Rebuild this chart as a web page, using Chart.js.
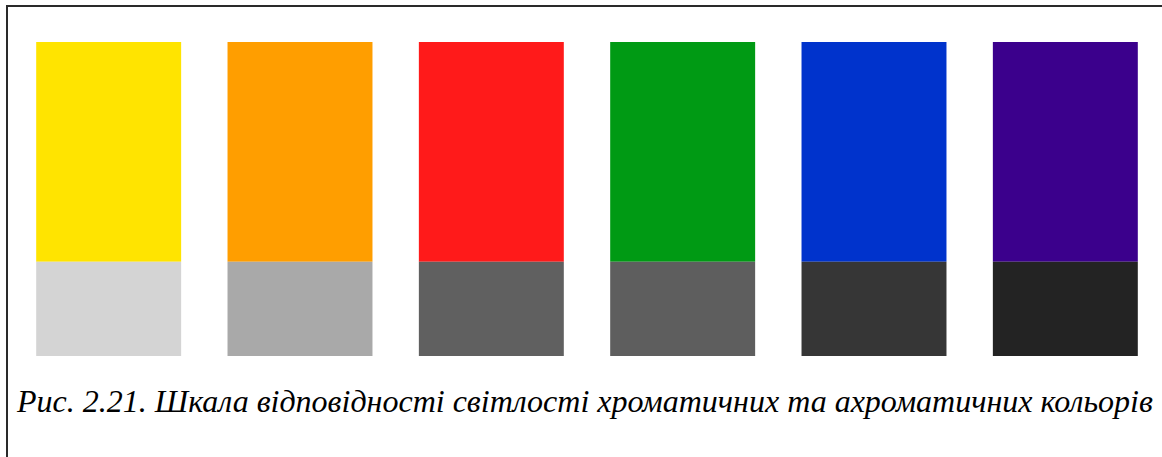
<!DOCTYPE html>
<html>
<head>
<meta charset="utf-8">
<script src="https://cdn.jsdelivr.net/npm/chart.js@4"></script>
<style>
  body { margin: 0; background: #fff; width: 1162px; height: 457px; overflow: hidden; position: relative; }
  .frame { position: absolute; left: 6px; top: 5px; width: 1200px; height: 500px;
           border-top: 2px solid #2a2a2a; border-left: 2px solid #2a2a2a; }
  .wrap { position: absolute; left: 0; top: 0; width: 1162px; height: 356px; }
  .caption { position: absolute; left: 17px; top: 383px; white-space: nowrap;
             font-family: "Liberation Serif", "Times New Roman", serif; font-style: italic;
             font-size: 32px; color: #000; }
</style>
</head>
<body>
<div class="frame"></div>
<div class="wrap"><canvas id="scale-chart"></canvas></div>
<div class="caption" id="caption"></div>
<script>
//
// Lightness scale data
//
const swatchNames = ['Жовтий', 'Помаранчевий', 'Червоний', 'Зелений', 'Синій', 'Фіолетовий'];
const achromaticPart = [30, 30, 30, 30, 30, 30];
const chromaticPart = [70, 70, 70, 70, 70, 70];
const captionText = 'Рис. 2.21. Шкала відповідності світлості хроматичних та ахроматичних кольорів';

const chromaticColors = ['#FFE400', '#FF9E00', '#FF1A1A', '#009A14', '#0033CC', '#3B008C'];
const achromaticColors = ['#D4D4D4', '#A9A9A9', '#606060', '#5E5E5E', '#363636', '#232323'];

document.getElementById('caption').textContent = captionText;

const scaleCanvas = document.getElementById('scale-chart');

let scaleData = {
    labels: swatchNames,
    datasets: [{
        label: 'Ахроматичні',
        data: achromaticPart,
        backgroundColor: achromaticColors,
        borderWidth: 0
    }, {
        label: 'Хроматичні',
        data: chromaticPart,
        backgroundColor: chromaticColors,
        borderWidth: 0
    }]
};

let scaleOptions = {
    responsive: true,
    maintainAspectRatio: false,
    animation: false,
    barPercentage: 0.7576,
    categoryPercentage: 1,
    layout: {
        padding: { left: 13, right: 1, top: 42, bottom: 0 }
    },
    scales: {
        x: { stacked: true, display: false },
        y: { stacked: true, display: false, min: 0, max: 100 }
    },
    plugins: {
        legend: { display: false },
        tooltip: { enabled: false }
    }
};

let scaleChart = new Chart(scaleCanvas, {
    type: 'bar',
    data: scaleData,
    options: scaleOptions
});
</script>
</body>
</html>
